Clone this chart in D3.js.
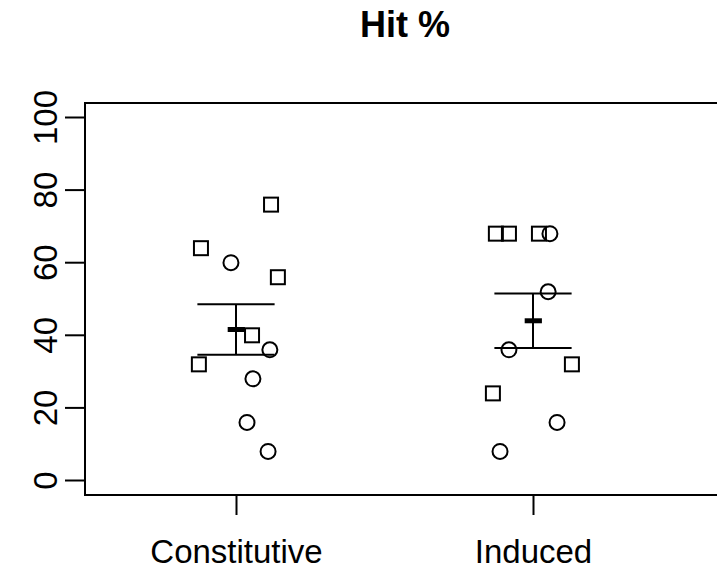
<!DOCTYPE html>
<html>
<head>
<meta charset="utf-8">
<script src="https://cdn.jsdelivr.net/npm/d3@7"></script>
<style>
  html, body { margin: 0; padding: 0; background: #fff; }
  svg { display: block; font-family: "Liberation Sans", Arial, Helvetica, sans-serif; }
</style>
</head>
<body>
<svg id="chart" width="717" height="569"></svg>
<script>
// Groups and per-subject hit percentages
const categories = ["Constitutive", "Induced"];
const chartTitle = "Hit %";
const yTicks = [0, 20, 40, 60, 80, 100];

// square markers and circle markers in each group
const squareValues = [
  [76, 64, 56, 40, 32],
  [68, 68, 68, 32, 24]
];
const circleValues = [
  [60, 36, 28, 16, 8],
  [68, 52, 36, 16, 8]
];
// horizontal jitter of each point, in category units
const squareJitter = [
  [0.118, -0.118, 0.141, 0.054, -0.125],
  [-0.125, -0.081, 0.020, 0.131, -0.135]
];
const circleJitter = [
  [-0.017, 0.114, 0.057, 0.037, 0.108],
  [0.057, 0.051, -0.081, 0.081, -0.111]
];

const svg = d3.select("#chart");
const plot = { left: 85, top: 103, right: 719, bottom: 495 };

const x = d3.scaleLinear().domain([1, 2]).range([236, 533]);
const y = d3.scaleLinear().domain([0, 100]).range([480.5, 117.5]);

// plot frame (runs past the right edge of the canvas)
svg.append("rect")
  .attr("x", plot.left).attr("y", plot.top)
  .attr("width", plot.right - plot.left).attr("height", plot.bottom - plot.top)
  .attr("fill", "none").attr("stroke", "#000").attr("stroke-width", 2);

// title
svg.append("text")
  .attr("x", 405).attr("y", 37)
  .attr("text-anchor", "middle")
  .attr("font-size", 36).attr("font-weight", "bold")
  .text(chartTitle);

// y axis
const yAxis = d3.axisLeft(y).tickValues(yTicks).tickSize(20).tickSizeOuter(0).tickFormat(d3.format("d"));
const gy = svg.append("g").attr("transform", `translate(${plot.left},0)`).call(yAxis);
gy.select(".domain").attr("d", `M0,${y(0)}V${y(100)}`).attr("stroke-width", 2);
gy.selectAll(".tick line").attr("stroke-width", 2);
gy.selectAll(".tick text")
  .attr("font-size", 33).attr("fill", "#000")
  .attr("x", null).attr("dy", null)
  .attr("text-anchor", "middle")
  .attr("transform", function(d) { return `translate(-28,${y(d)}) rotate(-90)`; })
  .attr("y", 0);
gy.selectAll(".tick").attr("transform", null);
gy.selectAll(".tick line").attr("transform", d => `translate(0,${y(d)})`);

// x axis
const xAxis = d3.axisBottom(x).tickValues([1, 2]).tickSize(20).tickSizeOuter(0).tickFormat((d, i) => categories[i]);
const gx = svg.append("g").attr("transform", `translate(0,${plot.bottom})`).call(xAxis);
gx.select(".domain").remove();
gx.selectAll(".tick line").attr("stroke-width", 2);
gx.selectAll(".tick text").attr("font-size", 33).attr("fill", "#000").attr("y", 68).attr("dy", null);

const side = 14;
categories.forEach((cat, i) => {
  const gi = i + 1;
  const sq = squareValues[i].map((v, k) => ({ v, j: squareJitter[i][k] }));
  const ci = circleValues[i].map((v, k) => ({ v, j: circleJitter[i][k] }));

  svg.append("g").selectAll("rect").data(sq).join("rect")
    .attr("x", d => x(gi + d.j) - side / 2)
    .attr("y", d => y(d.v) - side / 2)
    .attr("width", side).attr("height", side)
    .attr("fill", "none").attr("stroke", "#000").attr("stroke-width", 2);

  svg.append("g").selectAll("circle").data(ci).join("circle")
    .attr("cx", d => x(gi + d.j))
    .attr("cy", d => y(d.v))
    .attr("r", 7.5)
    .attr("fill", "none").attr("stroke", "#000").attr("stroke-width", 2);

  // mean and standard error of all points in the group
  const all = squareValues[i].concat(circleValues[i]);
  const m = d3.mean(all);
  const se = d3.deviation(all) / Math.sqrt(all.length);

  const eb = svg.append("g").attr("stroke", "#000");
  eb.append("line").attr("x1", x(gi)).attr("x2", x(gi))
    .attr("y1", y(m - se)).attr("y2", y(m + se)).attr("stroke-width", 2);
  [m - se, m + se].forEach(v => {
    eb.append("line").attr("x1", x(gi - 0.13)).attr("x2", x(gi + 0.13))
      .attr("y1", y(v)).attr("y2", y(v)).attr("stroke-width", 2);
  });
  eb.append("line").attr("x1", x(gi - 0.028)).attr("x2", x(gi + 0.03))
    .attr("y1", y(m)).attr("y2", y(m)).attr("stroke-width", 5);
});
</script>
</body>
</html>
